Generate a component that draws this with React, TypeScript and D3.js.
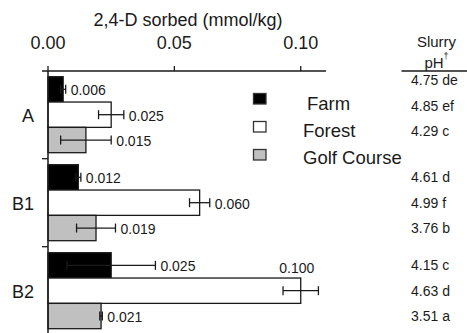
import React from 'react';
import * as d3 from 'd3';

const groups = ['A', 'B1', 'B2'];
const seriesNames = ['Farm', 'Forest', 'Golf Course'];
const seriesColors = ['#000000', '#ffffff', '#c0c0c0'];
const farmValues = [0.006, 0.012, 0.025];
const forestValues = [0.025, 0.06, 0.1];
const golfValues = [0.015, 0.019, 0.021];
const farmErr = [0.001, 0.001, 0.0175];
const forestErr = [0.005, 0.004, 0.007];
const golfErr = [0.01, 0.0077, 0.0005];
const valueLabels = [
  ['0.006', '0.025', '0.015'],
  ['0.012', '0.060', '0.019'],
  ['0.025', '0.100', '0.021'],
];
const phLabels = [
  ['4.75 de', '4.85 ef', '4.29 c'],
  ['4.61 d', '4.99 f', '3.76 b'],
  ['4.15 c', '4.63 d', '3.51 a'],
];
const xTicks = [0, 0.05, 0.1];
const xTickLabels = ['0.00', '0.05', '0.10'];

const W = 467;
const H = 333;
const FONT = "'Liberation Sans', Arial, Helvetica, sans-serif";

export default function App() {
  const values = [farmValues, forestValues, golfValues];
  const errs = [farmErr, forestErr, golfErr];

  const x = d3.scaleLinear().domain([0, 0.11]).range([48, 326]);
  const pad = 12 / 88;
  const y0 = d3
    .scaleBand<string>()
    .domain(groups)
    .range([70.7, 70.7 + 264])
    .paddingInner(pad)
    .paddingOuter(pad / 2);
  const y1 = d3.scaleBand<string>().domain(seriesNames).range([0, y0.bandwidth()]).padding(0);

  const axisY = 71;
  const textColor = '#1a1a1a';

  const bars: React.ReactNode[] = [];
  groups.forEach((g, gi) => {
    seriesNames.forEach((s, si) => {
      const v = values[si][gi];
      const e = errs[si][gi];
      const top = (y0(g) as number) + (y1(s) as number);
      const h = y1.bandwidth();
      const cy = top + h / 2;
      const xe0 = x(v - e);
      const xe1 = x(v + e);
      const label = valueLabels[gi][si];
      const overflow = xe1 + 6 + 36 > 326;
      bars.push(
        <g key={`${g}-${s}`}>
          <rect
            x={x(0)}
            y={top}
            width={x(v) - x(0)}
            height={h}
            fill={seriesColors[si]}
            stroke="#1a1a1a"
            strokeWidth={1.3}
          />
          <line x1={xe0} x2={xe1} y1={cy} y2={cy} stroke="#1a1a1a" strokeWidth={1.3} />
          <line x1={xe0} x2={xe0} y1={cy - 4.5} y2={cy + 4.5} stroke="#1a1a1a" strokeWidth={1.3} />
          <line x1={xe1} x2={xe1} y1={cy - 4.5} y2={cy + 4.5} stroke="#1a1a1a" strokeWidth={1.3} />
          {overflow ? (
            <text
              x={x(v) - 4}
              y={top - 10}
              textAnchor="middle"
              dominantBaseline="central"
              fontSize={14}
              fill={textColor}
            >
              {label}
            </text>
          ) : (
            <text
              x={xe1 + 5}
              y={cy + 1}
              textAnchor="start"
              dominantBaseline="central"
              fontSize={14}
              fill={textColor}
            >
              {label}
            </text>
          )}
          <text
            x={411}
            y={cy + (gi === 0 ? -9 : 0)}
            textAnchor="start"
            dominantBaseline="central"
            fontSize={14}
            fill={textColor}
          >
            {phLabels[gi][si]}
          </text>
        </g>
      );
    });
  });

  const groupSeps = groups.slice(1).map((g) => (y0(g) as number) - 6);

  return (
    <svg
      width={W}
      height={H}
      style={{ position: 'absolute', left: 0, top: 0, background: '#fff' }}
      fontFamily={FONT}
    >
      <rect x={0} y={0} width={W} height={H} fill="#fff" />
      <text x={188} y={20} textAnchor="middle" dominantBaseline="central" fontSize={18} fill={textColor}>
        2,4-D sorbed (mmol/kg)
      </text>
      {xTicks.map((t, i) => (
        <g key={t}>
          <text
            x={x(t)}
            y={43}
            textAnchor="middle"
            dominantBaseline="central"
            fontSize={18}
            fill={textColor}
          >
            {xTickLabels[i]}
          </text>
          <line x1={x(t)} x2={x(t)} y1={axisY} y2={axisY - 5} stroke="#1a1a1a" strokeWidth={1.3} />
        </g>
      ))}
      {bars}
      <line x1={42} x2={326} y1={axisY} y2={axisY} stroke="#1a1a1a" strokeWidth={1.5} />
      <line x1={x(0)} x2={x(0)} y1={axisY} y2={H} stroke="#1a1a1a" strokeWidth={1.5} />
      {groupSeps.map((sy) => (
        <line key={sy} x1={42} x2={x(0)} y1={sy} y2={sy} stroke="#1a1a1a" strokeWidth={1.3} />
      ))}
      {groups.map((g) => (
        <text
          key={g}
          x={34}
          y={(y0(g) as number) + y0.bandwidth() / 2 + 1}
          textAnchor="end"
          dominantBaseline="central"
          fontSize={18}
          fill={textColor}
        >
          {g}
        </text>
      ))}
      {seriesNames.map((s, i) => (
        <g key={s}>
          <rect
            x={253.5}
            y={93.5 + i * 28}
            width={12.5}
            height={10.5}
            fill={seriesColors[i]}
            stroke="#333"
            strokeWidth={1.3}
          />
          <text
            x={i === 0 ? 307 : 303}
            y={103 + i * 27.2}
            dominantBaseline="central"
            fontSize={18.5}
            fill={textColor}
          >
            {s}
          </text>
        </g>
      ))}
      <text x={436.5} y={41} textAnchor="middle" dominantBaseline="central" fontSize={15} fill={textColor}>
        Slurry
      </text>
      <text x={436.5} y={62} textAnchor="middle" dominantBaseline="central" fontSize={15} fill={textColor}>
        pH
        <tspan fontSize={9} dy={-6}>
          †
        </tspan>
      </text>
      <line x1={401.5} x2={467} y1={axisY} y2={axisY} stroke="#1a1a1a" strokeWidth={1.5} />
    </svg>
  );
}
